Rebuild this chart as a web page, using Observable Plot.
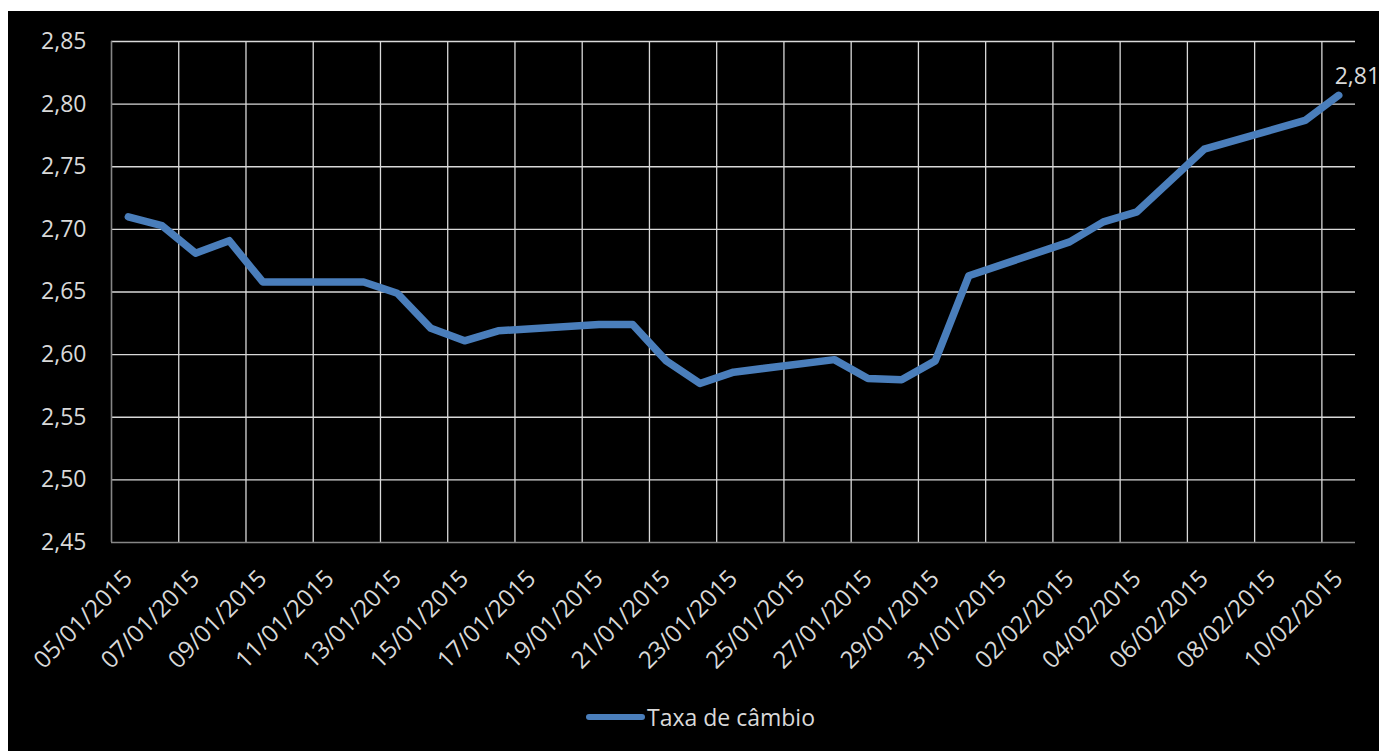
<!DOCTYPE html>
<html>
<head>
<meta charset="utf-8">
<script src="https://cdn.jsdelivr.net/npm/d3@7"></script>
<script src="https://cdn.jsdelivr.net/npm/@observablehq/plot@0.6"></script>
<style>
  html, body { margin: 0; padding: 0; background: #ffffff; overflow: hidden; }
  #panel {
    position: absolute; left: 8px; top: 11px; width: 1371px; height: 740px;
    background: #000000; overflow: hidden;
    font-family: "Open Sans", "Noto Sans", sans-serif; color: #d9d9d9;
  }
  #chart { position: absolute; left: 0; top: 0; }
  #legend {
    position: absolute; left: 578px; top: 689px; height: 34px;
    display: flex; align-items: center; font-size: 23px; color: #d9d9d9;
  }
  #legend .swatch {
    width: 59px; height: 6px; border-radius: 3px; background: #4a7ebb; margin-right: 2px;
  }
</style>
</head>
<body>
<div id="panel">
  <div id="chart"></div>
  <div id="legend"><span class="swatch"></span><span>Taxa de câmbio</span></div>
</div>
<script>
// Daily exchange rate (business days), R$ per US$
const dates = [
  "2015-01-05", "2015-01-06", "2015-01-07", "2015-01-08", "2015-01-09",
  "2015-01-12", "2015-01-13", "2015-01-14", "2015-01-15", "2015-01-16",
  "2015-01-19", "2015-01-20", "2015-01-21", "2015-01-22", "2015-01-23",
  "2015-01-26", "2015-01-27", "2015-01-28", "2015-01-29", "2015-01-30",
  "2015-02-02", "2015-02-03", "2015-02-04", "2015-02-05", "2015-02-06",
  "2015-02-09", "2015-02-10"
];
const rates = [
  2.710, 2.703, 2.681, 2.691, 2.658,
  2.658, 2.649, 2.621, 2.611, 2.619,
  2.624, 2.624, 2.595, 2.577, 2.586,
  2.596, 2.581, 2.580, 2.595, 2.663,
  2.690, 2.706, 2.714, 2.739, 2.764,
  2.787, 2.807
];

// Axis labels
const xLabels = [
  "05/01/2015", "07/01/2015", "09/01/2015", "11/01/2015", "13/01/2015",
  "15/01/2015", "17/01/2015", "19/01/2015", "21/01/2015", "23/01/2015",
  "25/01/2015", "27/01/2015", "29/01/2015", "31/01/2015", "02/02/2015",
  "04/02/2015", "06/02/2015", "08/02/2015", "10/02/2015"
];
const yTicks = [2.45, 2.50, 2.55, 2.60, 2.65, 2.70, 2.75, 2.80, 2.85];
const seriesName = "Taxa de câmbio";

const HALF_DAY = 12 * 3600 * 1000;
const parseDMY = s => { const [d, m, y] = s.split("/").map(Number); return new Date(Date.UTC(y, m - 1, d)); };
const fmt = v => v.toFixed(2).replace(".", ",");

const data = dates.map((d, i) => ({date: new Date(d + "T00:00:00Z"), rate: rates[i]}));
const labelDates = xLabels.map(parseDMY);
// category boundaries sit half a day before each labelled day
const gridDates = labelDates.map(d => new Date(+d - HALF_DAY));
const xStart = gridDates[0];
const xEnd = new Date(+data[data.length - 1].date + HALF_DAY);
const last = data[data.length - 1];

const chart = Plot.plot({
  width: 1371,
  height: 640,
  marginLeft: 103,
  marginRight: 24,
  marginTop: 30,
  marginBottom: 109,
  style: {background: "#000000", color: "#d9d9d9", fontFamily: "'Open Sans', 'Noto Sans', sans-serif", fontSize: "23px", overflow: "visible"},
  x: {type: "utc", domain: [xStart, xEnd], axis: null},
  y: {domain: [2.45, 2.85], axis: null},
  marks: [
    Plot.ruleY(yTicks.slice(1), {stroke: "#d9d9d9", strokeWidth: 1.3}),
    Plot.ruleX(gridDates.slice(1), {stroke: "#d9d9d9", strokeWidth: 1.3}),
    Plot.ruleY([yTicks[0]], {stroke: "#868686", strokeWidth: 1.6}),
    Plot.ruleX([xStart], {stroke: "#868686", strokeWidth: 1.6}),
    Plot.text(yTicks, {
      y: d => d, text: fmt, frameAnchor: "left", dx: -25, textAnchor: "end",
      fill: "#d9d9d9", fontSize: 23
    }),
    Plot.text(labelDates, {
      x: d => d, text: (d, i) => xLabels[i], frameAnchor: "bottom", dy: 32,
      rotate: -45, textAnchor: "end", lineAnchor: "middle", fill: "#d9d9d9", fontSize: 24
    }),
    Plot.line(data, {
      x: "date", y: "rate", stroke: "#4a7ebb", strokeWidth: 7.5,
      strokeLinejoin: "round", strokeLinecap: "round"
    }),
    Plot.text([last], {
      x: "date", y: "rate", text: d => fmt(d.rate), dx: -4, dy: -19,
      textAnchor: "start", fill: "#d9d9d9", fontSize: 23
    })
  ]
});
document.getElementById("chart").appendChild(chart);
</script>
</body>
</html>
